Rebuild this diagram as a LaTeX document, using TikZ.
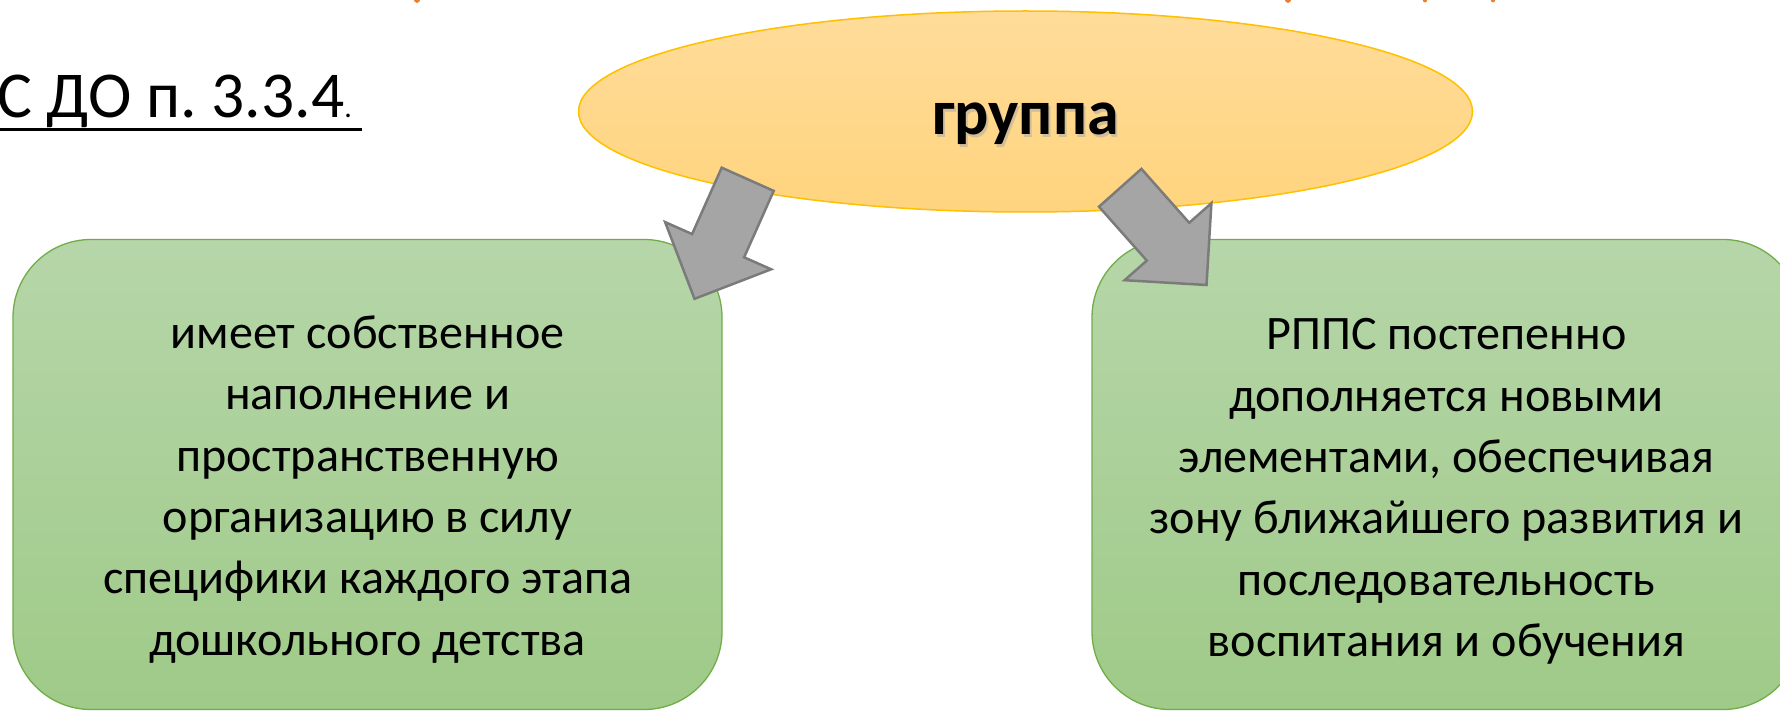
\documentclass[tikz,border=0pt]{standalone}
\usepackage{fontspec}
\setmainfont{Carlito}
\frenchspacing
\usetikzlibrary{shapes.geometric}
\definecolor{ellfillT}{HTML}{FFDC9A}
\definecolor{ellfillB}{HTML}{FFD47E}
\definecolor{ellline}{HTML}{FFC000}
\definecolor{grnT}{HTML}{B6D6A9}
\definecolor{grnB}{HTML}{9FCA88}
\definecolor{grnline}{HTML}{70AD47}
\definecolor{arrfill}{HTML}{A5A5A5}
\definecolor{arrline}{HTML}{7B7B7B}
\definecolor{ttlorange}{HTML}{ED7D31}
\tikzset{
  oval/.style={ellipse, draw=ellline, line width=1.5pt, top color=ellfillT, bottom color=ellfillB,
    minimum width=894pt, minimum height=201pt, inner sep=0pt},
  greenbox/.style={draw=grnline, line width=1.3pt, rounded corners=78pt, top color=grnT, bottom color=grnB,
    minimum width=709pt, minimum height=470pt, inner sep=0pt},
  blockarrow/.style={fill=arrfill, draw=arrline, line width=2.5pt, line join=miter},
  boxtext/.style={align=center, font=\fontsize{48.1}{61.3}\selectfont, inner sep=0pt},
}
\begin{document}
\begin{tikzpicture}[x=1pt,y=-1pt]
\useasboundingbox (0,0) rectangle (1780,711);
\clip (0,0) rectangle (1780,711);
\fill[white] (0,0) rectangle (1780,711);
% fragments of cut-off title
\fill[ttlorange] (417,-2) ellipse (3.5pt and 5pt);
\fill[ttlorange] (1288,-2) ellipse (3.5pt and 5pt);
\fill[ttlorange] (1425,-1) ellipse (2.5pt and 3.5pt);
\fill[ttlorange] (1493,-1) ellipse (2.5pt and 3.5pt);
% main shapes
\node[oval] (grp) at (1025.5,111.5) {};
\node[greenbox] (left) at (367.5,474.5) {};
\node[greenbox] (right) at (1446.5,474.5) {};
% arrows
\coordinate (la) at (747.7,179.3);
\coordinate (ra) at (1120.2,187.8);
\draw[blockarrow] (721.7,167.7) -- (773.7,190.9) -- (744.1,257.3) -- (771.1,269.3)
  -- (694.5,298.8) -- (665.1,222.1) -- (692.1,234.1) -- cycle;
\draw[blockarrow] (1141.4,168.9) -- (1189.2,222.8) -- (1211.4,203.2) -- (1206.5,285)
  -- (1124.6,280.2) -- (1146.8,260.6) -- (1099,206.7) -- cycle;
% texts
\node[anchor=base, font=\fontsize{64}{70}\selectfont\bfseries, text=black!35, opacity=0.5] at (1027.5,137.5) {группа};
\node[anchor=base, font=\fontsize{64}{70}\selectfont\bfseries] (grptxt) at (1025.5,135) {группа};
\node[anchor=base west, inner sep=0pt, font=\fontsize{65.5}{70}\selectfont] (ttl) at (-3,118) {С ДО п. 3.3.4\fontsize{30}{30}\selectfont.};
\draw[line width=3pt] (0,129.5) -- (362,129.5);
\node[boxtext] (ltxt) at (367.5,489.5) {имеет собственное\\наполнение и\\пространственную\\организацию в силу\\специфики каждого этапа\\дошкольного детства};
\node[boxtext] (rtxt) at (1446.5,491.5) {РППС постепенно\\дополняется новыми\\элементами, обеспечивая\\зону ближайшего развития и\\последовательность\\воспитания и обучения};
\end{tikzpicture}
\end{document}
